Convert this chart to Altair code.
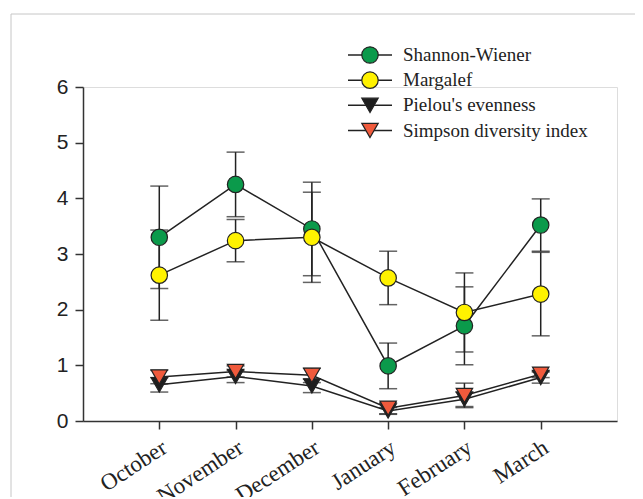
import altair as alt
import pandas as pd

months = ["October", "November", "December", "January", "February", "March"]
series_names = ["Shannon-Wiener", "Margalef", "Pielou's evenness", "Simpson diversity index"]

shannon = [3.30, 4.25, 3.45, 0.99, 1.71, 3.52]
shannon_err = [0.92, 0.58, 0.84, 0.41, 0.70, 0.47]
margalef = [2.62, 3.24, 3.30, 2.57, 1.95, 2.28]
margalef_err = [0.81, 0.38, 0.81, 0.48, 0.71, 0.75]
pielou = [0.65, 0.80, 0.63, 0.18, 0.39, 0.78]
pielou_err = [0.13, 0.11, 0.12, 0.06, 0.13, 0.10]
simpson = [0.79, 0.89, 0.82, 0.23, 0.46, 0.84]
simpson_err = [0.12, 0.10, 0.13, 0.10, 0.22, 0.06]

colors = ["#0B9A4B", "#FFF200", "#1E1E1E", "#F05A3C"]
shapes = ["circle", "circle", "triangle-down", "triangle-down"]

values = [shannon, margalef, pielou, simpson]
errors = [shannon_err, margalef_err, pielou_err, simpson_err]

rows = []
for si, name in enumerate(series_names):
    for mi, m in enumerate(months):
        rows.append({"month": m, "series": name, "order": si,
                     "value": values[si][mi], "err": errors[si][mi]})
df = pd.DataFrame(rows)
df["lo"] = df["value"] - df["err"]
df["hi"] = df["value"] + df["err"]

legend_df = pd.DataFrame({"series": series_names, "row": list(range(len(series_names)))})

W, H = 534, 334
INK = "#222222"

x_enc = alt.X("month:N", sort=months,
              scale=alt.Scale(type="point", padding=1),
              axis=alt.Axis(title=None, labelAngle=327, labelAlign="right",
                            labelBaseline="top", labelPadding=7, labelOffset=-1,
                            labelFont="Liberation Serif", labelFontSize=23,
                            labelColor=INK, tickSize=8, tickColor="#333333",
                            tickWidth=1.5, domainColor="#333333", domainWidth=1.5,
                            grid=False))
y_scale = alt.Scale(domain=[0, 6], nice=False, zero=True)
y_enc = alt.Y("value:Q", scale=y_scale,
              axis=alt.Axis(title=None, values=[0, 1, 2, 3, 4, 5, 6], format="d",
                            labelFont="Liberation Sans", labelFontSize=21,
                            labelColor=INK, labelPadding=7, tickSize=8,
                            tickColor="#333333", tickWidth=1.5,
                            domainColor="#333333", domainWidth=1.5, grid=False))
shape_enc = alt.Shape("series:N", scale=alt.Scale(domain=series_names, range=shapes), legend=None)
fill_enc = alt.Fill("series:N", scale=alt.Scale(domain=series_names, range=colors), legend=None)

base = alt.Chart(df)

lines = base.mark_line(color=INK, strokeWidth=1.5).encode(
    x=x_enc, y=y_enc, detail="series:N")

bars = base.mark_rule(color=INK, strokeWidth=1.5).encode(
    x=alt.X("month:N", sort=months), y=alt.Y("lo:Q", scale=y_scale), y2="hi:Q")
cap_lo = base.mark_tick(color=INK, thickness=1.5, size=18, orient="horizontal").encode(
    x=alt.X("month:N", sort=months), y=alt.Y("lo:Q", scale=y_scale))
cap_hi = base.mark_tick(color=INK, thickness=1.5, size=18, orient="horizontal").encode(
    x=alt.X("month:N", sort=months), y=alt.Y("hi:Q", scale=y_scale))

points = base.mark_point(filled=True, stroke=INK, strokeWidth=1.2, opacity=1, size=270).encode(
    x=alt.X("month:N", sort=months), y=alt.Y("value:Q", scale=y_scale),
    fill=fill_enc, shape=shape_enc, order="order:Q")

leg_y = alt.Y("row:Q", scale=alt.Scale(domain=[0, 3], range=[-32, 43.5], nice=False, zero=False),
              axis=None)
leg_base = alt.Chart(legend_df)
leg_line = leg_base.mark_rule(color=INK, strokeWidth=1.5).encode(
    x=alt.value(265), x2=alt.value(309), y=leg_y)
leg_pt = leg_base.mark_point(filled=True, stroke=INK, strokeWidth=1.2, opacity=1, size=270).encode(
    x=alt.value(287), y=leg_y, fill=fill_enc, shape=shape_enc)
leg_text = leg_base.mark_text(align="left", baseline="middle", font="Liberation Serif",
                              fontSize=19, color=INK).encode(
    x=alt.value(320), y=leg_y, text="series:N")

one = alt.Data(values=[{"a": 1}])
frame_top = alt.Chart(one).mark_rule(color="#c6c6c6", strokeWidth=1).encode(
    x=alt.value(-72), x2=alt.value(W + 100), y=alt.value(-73))
frame_left = alt.Chart(one).mark_rule(color="#c6c6c6", strokeWidth=1).encode(
    x=alt.value(-72), y=alt.value(-73), y2=alt.value(H + 200))

main = alt.layer(frame_top, frame_left, lines, bars, cap_lo, cap_hi, points)
legend = alt.layer(leg_line, leg_pt, leg_text)

chart = alt.layer(main, legend).resolve_scale(y="independent").properties(
    width=W, height=H,
    autosize=alt.AutoSizeParams(type="none"),
    padding={"left": 75, "top": 79, "right": 18, "bottom": 76},
).configure_view(stroke=None).configure(background="white")

chart.save("out.html", embed_options={"renderer": "svg", "actions": False})
